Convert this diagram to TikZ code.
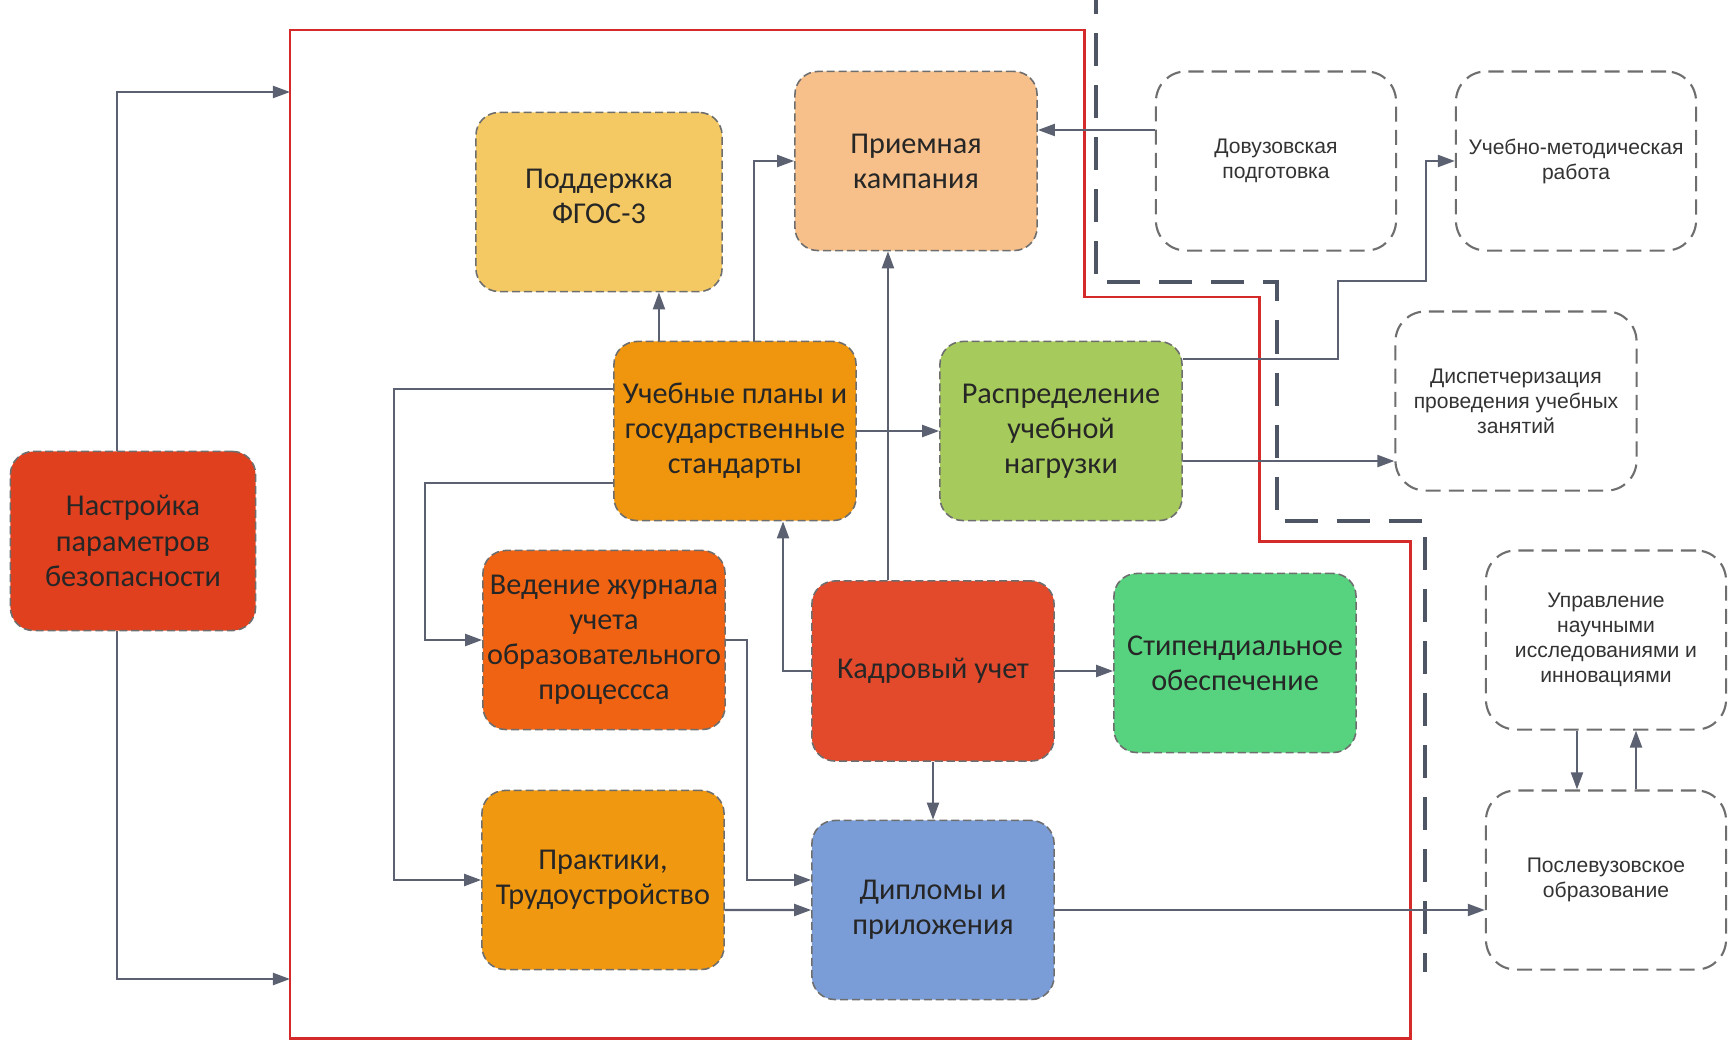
\documentclass[tikz,border=0pt]{standalone}
\usepackage{fontspec}
\setmainfont{Carlito}
\newfontfamily\arialfont{Liberation Sans}
\usetikzlibrary{arrows.meta}

\definecolor{linegray}{HTML}{5B6170}
\definecolor{boxgray}{HTML}{6E6E6E}
\definecolor{sepgray}{HTML}{4E5564}
\definecolor{frameRed}{HTML}{D42A2A}
\definecolor{nastrRed}{HTML}{E0401E}
\definecolor{fgosYellow}{HTML}{F4C963}
\definecolor{priemPeach}{HTML}{F7C08A}
\definecolor{planyOrange}{HTML}{F0950E}
\definecolor{rasprGreen}{HTML}{A6CB5C}
\definecolor{zhurnalOrange}{HTML}{F06312}
\definecolor{kadryRed}{HTML}{E34A2C}
\definecolor{stipGreen}{HTML}{57D37F}
\definecolor{praktOrange}{HTML}{F0980F}
\definecolor{diplBlue}{HTML}{7A9DD8}

\begin{document}
\begin{tikzpicture}[x=0.01cm, y=-0.01cm,
  >={Triangle[length=0.17cm,width=0.12cm]},
  conn/.style={draw=linegray, line width=0.6pt},
  block/.style={draw=boxgray, line width=0.45pt, dash pattern=on 2.3pt off 1.1pt,
    rounded corners=0.23cm, minimum width=2.42cm, minimum height=1.79cm,
    align=center, inner sep=1pt, text=black!85,
    font=\fontsize{8.6}{10}\selectfont},
  outer/.style={draw=boxgray, line width=0.6pt, dash pattern=on 4.3pt off 2.3pt,
    rounded corners=0.3cm, minimum width=2.40cm, minimum height=1.79cm,
    align=center, inner sep=1pt, text=black!80,
    font=\arialfont\fontsize{6}{7.1}\selectfont}]
  \useasboundingbox (0,0) rectangle (1729,1045);

  % system border and zone border
  \draw[frameRed, line width=0.85pt] (290,30) -- (1084,30) -- (1084,297) -- (1259,297)
    -- (1259,541) -- (1410,541) -- (1410,1038) -- (290,1038) -- cycle;
  \draw[sepgray, line width=1.3pt, dash pattern=on 9.4pt off 5.4pt]
    (1096,-19) -- (1096,282) -- (1277,282) -- (1277,521) -- (1425,521) -- (1425,972);
  \coordinate (inTop) at (290,92);
  \coordinate (inBot) at (290,979);

  % modules
  \node[block, fill=nastrRed, minimum width=2.45cm] (nastr) at (133,541) {Настройка\\параметров\\безопасности};
  \node[block, fill=fgosYellow, minimum width=2.46cm, text depth=0.12cm] (fgos) at (599,202) {Поддержка\\ФГОС-3};
  \node[block, fill=priemPeach] (priem) at (916,161) {Приемная\\кампания};
  \node[block, fill=planyOrange] (plany) at (735,431) {Учебные планы и\\государственные\\стандарты};
  \node[block, fill=rasprGreen] (raspr) at (1061,431) {Распределение\\учебной\\нагрузки};
  \node[block, fill=zhurnalOrange] (zhurnal) at (604,640) {Ведение журнала\\учета\\образовательного\\процессса};
  \node[block, fill=kadryRed, minimum height=1.80cm] (kadry) at (933,671) {Кадровый учет};
  \node[block, fill=stipGreen] (stip) at (1235,663) {Стипендиальное\\обеспечение};
  \node[block, fill=praktOrange] (prakt) at (603,880) {Практики,\\Трудоустройство};
  \node[block, fill=diplBlue] (dipl) at (933,910) {Дипломы и\\приложения};

  % outside modules
  \node[outer] (dovuz) at (1276,161) {Довузовская\\подготовка};
  \node[outer] (metod) at (1576,161) {Учебно-методическая\\работа};
  \node[outer, minimum width=2.41cm] (disp) at (1516,401) {Диспетчеризация\\проведения учебных\\занятий};
  \node[outer] (nauka) at (1606,640) {Управление\\научными\\исследованиями и\\инновациями};
  \node[outer] (poslevuz) at (1606,880) {Послевузовское\\образование};

  % links
  \draw[conn, ->] ([xshift=-0.16cm]nastr.north) |- (inTop);
  \draw[conn, ->] ([xshift=-0.16cm]nastr.south) |- (inBot);
  \draw[conn, ->] ([xshift=-0.76cm]plany.north) -- ([xshift=-0.76cm]plany.north |- fgos.south);
  \draw[conn, ->] ([xshift=0.19cm]plany.north) |- (priem.west);
  \draw[conn, ->] ([xshift=-0.45cm]kadry.north) -- ([xshift=-0.45cm]kadry.north |- priem.south);
  \draw[conn, ->] (plany) -- (raspr);
  \draw[conn, ->] ([yshift=0.42cm]plany.west) -- ++(-219,0) |- (prakt.west);
  \draw[conn, ->] ([yshift=-0.52cm]plany.west) -- ++(-188,0) |- (zhurnal.west);
  \draw[conn, ->] (kadry.west) -| ([xshift=0.48cm]plany.south);
  \draw[conn, ->] (kadry.east) -- (kadry.east -| stip.west);
  \draw[conn, ->] (kadry) -- (dipl);
  \draw[conn, ->] (zhurnal.east) -- ++(21,0) |- ([yshift=0.30cm]dipl.west);
  \draw[conn, ->] ([yshift=-0.30cm]prakt.east) -- (dipl.west);
  \draw[conn, ->] (dipl.east) -- (dipl.east -| poslevuz.west);
  \draw[conn, ->] ([yshift=0.72cm]raspr.east) -- ++(155,0) -- ++(0,-78) -- ++(88,0) |- (metod.west);
  \draw[conn, ->] ([yshift=-0.30cm]raspr.east) -- ([yshift=-0.30cm]raspr.east -| disp.west);
  \draw[conn, ->] ([yshift=0.31cm]dovuz.west) -- ([yshift=0.31cm]dovuz.west -| priem.east);
  \draw[conn, ->] ([xshift=-0.29cm]nauka.south) -- ([xshift=-0.29cm]nauka.south |- poslevuz.north);
  \draw[conn, ->] ([xshift=0.30cm]poslevuz.north) -- ([xshift=0.30cm]poslevuz.north |- nauka.south);
\end{tikzpicture}
\end{document}
